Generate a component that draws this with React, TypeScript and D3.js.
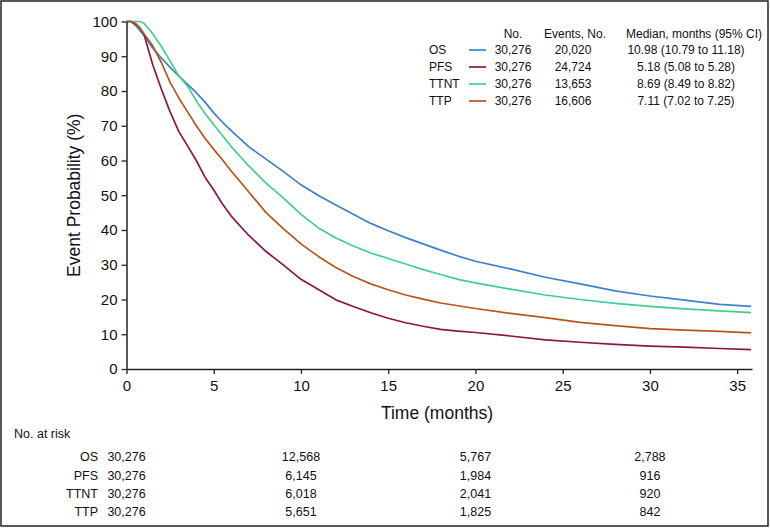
import React, { useRef, useEffect } from 'react';
import * as d3 from 'd3';

// time grid (months) shared by all curves
const times = [0, 0.25, 0.5, 0.75, 1, 1.5, 2, 2.5, 3, 3.5, 4, 4.5, 5, 5.5, 6, 7, 8, 9, 10, 11, 12, 13, 14, 15, 16, 17, 18, 19, 20, 22, 24, 26, 28, 30, 32, 34, 35.8];

const osValues = [100, 100, 99, 97.5, 96, 92.4, 89.5, 86.8, 84.3, 81.9, 79.5, 76.8, 73.7, 71, 68.6, 64, 60.4, 56.8, 53, 49.9, 47.2, 44.5, 41.9, 39.8, 37.8, 36, 34.2, 32.5, 31, 28.8, 26.4, 24.5, 22.5, 21, 19.8, 18.6, 18];
const pfsValues = [100, 100, 99.3, 98.3, 96.3, 87.6, 80.5, 74, 68.3, 64.2, 60, 55.2, 51.5, 47.5, 44, 38.5, 33.8, 29.9, 25.8, 22.9, 19.9, 18, 16.2, 14.6, 13.3, 12.3, 11.4, 10.9, 10.5, 9.5, 8.4, 7.7, 7.1, 6.6, 6.3, 5.9, 5.6];
const ttntValues = [100, 100, 100, 100, 99.5, 96.5, 92.8, 88.6, 84.3, 81.4, 77.2, 73.5, 70.3, 67.2, 64, 58.5, 53.5, 49.2, 44.5, 40.6, 37.7, 35.4, 33.4, 31.8, 30.2, 28.6, 27.2, 25.8, 24.8, 23, 21.3, 20, 18.9, 18, 17.3, 16.7, 16.2];
const ttpValues = [100, 100, 99.5, 98.3, 96.5, 93, 88.2, 82.5, 78, 74, 70, 66.4, 63.2, 60.2, 57, 51, 45, 40.3, 36, 32.4, 29.2, 26.6, 24.5, 22.8, 21.3, 20.1, 19, 18.2, 17.4, 16, 14.8, 13.4, 12.5, 11.6, 11.2, 10.8, 10.4];

const seriesNames = ['OS', 'PFS', 'TTNT', 'TTP'];
const seriesColors = ['#3f80cb', '#8a1746', '#40cf8f', '#b5561e'];
const seriesValues = [osValues, pfsValues, ttntValues, ttpValues];

// legend table
const legendNo = ['30,276', '30,276', '30,276', '30,276'];
const legendEvents = ['20,020', '24,724', '13,653', '16,606'];
const legendMedian = ['10.98 (10.79 to 11.18)', '5.18 (5.08 to 5.28)', '8.69 (8.49 to 8.82)', '7.11 (7.02 to 7.25)'];

// number at risk
const riskTimes = [0, 10, 20, 30];
const riskOS = ['30,276', '12,568', '5,767', '2,788'];
const riskPFS = ['30,276', '6,145', '1,984', '916'];
const riskTTNT = ['30,276', '6,018', '2,041', '920'];
const riskTTP = ['30,276', '5,651', '1,825', '842'];
const riskRows = [riskOS, riskPFS, riskTTNT, riskTTP];

const xTicks = [0, 5, 10, 15, 20, 25, 30, 35];
const yTicks = [0, 10, 20, 30, 40, 50, 60, 70, 80, 90, 100];

function KMChart() {
  const svgRef = useRef<SVGSVGElement>(null);

  useEffect(() => {
    const width = 770;
    const height = 528;
    const font = 'Arial, "Liberation Sans", Helvetica, sans-serif';

    const svg = d3.select(svgRef.current);
    svg.selectAll('*').remove();
    svg.attr('width', width).attr('height', height).attr('viewBox', [0, 0, width, height])
      .style('font-family', font);

    svg.append('rect').attr('width', width).attr('height', height).attr('fill', 'white');
    svg.append('rect')
      .attr('x', 1).attr('y', 1).attr('width', width - 3).attr('height', height - 3)
      .attr('fill', 'none').attr('stroke', '#222').attr('stroke-width', 1.5);

    const x = d3.scaleLinear().domain([0, 35.85]).range([126.5, 752]);
    const y = d3.scaleLinear().domain([0, 100]).range([369, 21.5]);

    // curves
    const line = d3.line<number>()
      .x((_, i) => x(times[i]))
      .y(d => y(d));

    svg.append('g')
      .selectAll('path')
      .data(seriesValues)
      .join('path')
      .attr('d', d => line(d))
      .attr('fill', 'none')
      .attr('stroke', (_, i) => seriesColors[i])
      .attr('stroke-width', 1.7)
      .attr('stroke-linejoin', 'round');

    // y axis
    const yAxis = svg.append('g')
      .attr('transform', `translate(${x(0)},0)`)
      .call(d3.axisLeft(y).tickValues(yTicks).tickSize(5).tickPadding(4).tickSizeOuter(0));
    yAxis.select('.domain').attr('stroke', '#222').attr('stroke-width', 1.5);
    yAxis.selectAll('.tick line').attr('stroke', '#222').attr('stroke-width', 1.3);
    yAxis.selectAll('.tick text').attr('font-size', 15).attr('fill', '#111').attr('font-family', font);

    // x axis
    const xAxis = svg.append('g')
      .attr('transform', `translate(0,${y(0)})`)
      .call(d3.axisBottom(x).tickValues(xTicks).tickSize(5).tickPadding(6).tickSizeOuter(0));
    xAxis.select('.domain').attr('stroke', '#222').attr('stroke-width', 1.5);
    xAxis.selectAll('.tick line').attr('stroke', '#222').attr('stroke-width', 1.3);
    xAxis.selectAll('.tick text').attr('font-size', 15).attr('fill', '#111').attr('font-family', font);

    // axis titles
    svg.append('text')
      .attr('transform', `translate(80,${(y(0) + y(100)) / 2}) rotate(-90)`)
      .attr('text-anchor', 'middle')
      .attr('font-size', 17.5)
      .attr('fill', '#111')
      .text('Event Probability (%)');

    svg.append('text')
      .attr('x', 437).attr('y', 419)
      .attr('text-anchor', 'middle')
      .attr('font-size', 17.5)
      .attr('fill', '#111')
      .text('Time (months)');

    // legend
    const lg = svg.append('g').attr('font-size', 12).attr('fill', '#111');
    const headY = 34;
    const rowY = (i: number) => 50 + i * 17;
    lg.append('text').attr('x', 513).attr('y', headY).attr('dy', '0.35em').attr('text-anchor', 'middle').text('No.');
    lg.append('text').attr('x', 575).attr('y', headY).attr('dy', '0.35em').attr('text-anchor', 'middle').text('Events, No.');
    lg.append('text').attr('x', 694).attr('y', headY).attr('dy', '0.35em').attr('text-anchor', 'middle').text('Median, months (95% CI)');

    seriesNames.forEach((name, i) => {
      const yy = rowY(i);
      lg.append('text').attr('x', 429).attr('y', yy).attr('dy', '0.35em').text(name);
      lg.append('line')
        .attr('x1', 469).attr('x2', 486).attr('y1', yy).attr('y2', yy)
        .attr('stroke', seriesColors[i]).attr('stroke-width', 1.7);
      lg.append('text').attr('x', 513).attr('y', yy).attr('dy', '0.35em').attr('text-anchor', 'middle').text(legendNo[i]);
      lg.append('text').attr('x', 573).attr('y', yy).attr('dy', '0.35em').attr('text-anchor', 'middle').text(legendEvents[i]);
      lg.append('text').attr('x', 686).attr('y', yy).attr('dy', '0.35em').attr('text-anchor', 'middle').text(legendMedian[i]);
    });

    // number at risk table
    const rt = svg.append('g').attr('font-size', 12.5).attr('fill', '#111');
    rt.append('text').attr('x', 14).attr('y', 434).attr('dy', '0.35em').text('No. at risk');
    riskRows.forEach((row, i) => {
      const yy = 457 + i * 18.3;
      rt.append('text').attr('x', 98).attr('y', yy).attr('dy', '0.35em').attr('text-anchor', 'end').text(seriesNames[i]);
      row.forEach((v, j) => {
        rt.append('text').attr('x', x(riskTimes[j])).attr('y', yy).attr('dy', '0.35em')
          .attr('text-anchor', 'middle').text(v);
      });
    });
  }, []);

  return <svg ref={svgRef} style={{ position: 'absolute', left: 0, top: 0 }}></svg>;
}

export default function App() {
  return <KMChart />;
}
